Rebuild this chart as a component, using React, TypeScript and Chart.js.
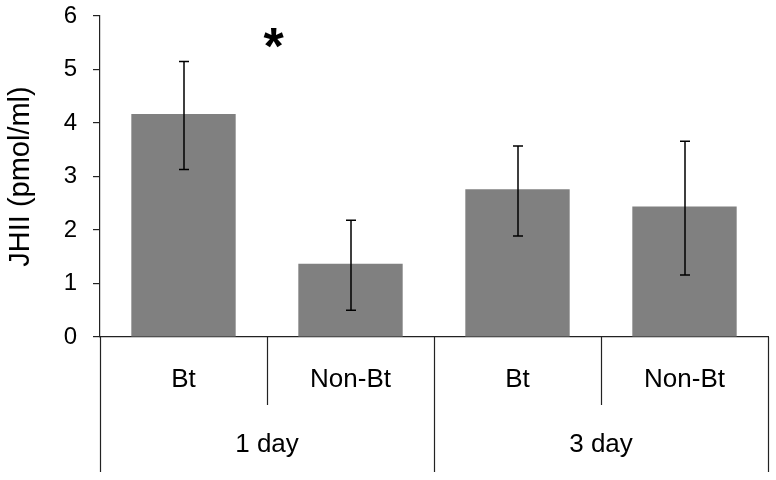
import React, { useEffect, useRef } from "react";
import { Chart, registerables } from "chart.js";

Chart.register(...registerables);

const groups = ["1 day", "3 day"];
const categories = ["Bt", "Non-Bt", "Bt", "Non-Bt"];
const categoryGroup = [0, 0, 1, 1];
const means = [4.17, 1.37, 2.76, 2.44];
const errLow = [3.13, 0.5, 1.89, 1.16];
const errHigh = [5.15, 2.18, 3.57, 3.66];
const yTicks = [0, 1, 2, 3, 4, 5, 6];
const yTitle = "JHII (pmol/ml)";
const significance = "*";

const FONT = "Arial, 'Liberation Sans', sans-serif";

const errorBarPlugin = {
  id: "errorBars",
  afterDatasetsDraw(chart: any) {
    const ctx = chart.ctx;
    const meta = chart.getDatasetMeta(0);
    const y = chart.scales.y;
    ctx.save();
    ctx.strokeStyle = "#000";
    ctx.lineWidth = 1.5;
    meta.data.forEach((bar: any, i: number) => {
      const x = Math.round(bar.x);
      const yh = y.getPixelForValue(errHigh[i]);
      const yl = y.getPixelForValue(errLow[i]);
      ctx.beginPath();
      ctx.moveTo(x, yh);
      ctx.lineTo(x, yl);
      ctx.moveTo(x - 5, yh);
      ctx.lineTo(x + 5, yh);
      ctx.moveTo(x - 5, yl);
      ctx.lineTo(x + 5, yl);
      ctx.stroke();
    });
    ctx.restore();
  },
};

const groupAxisPlugin = {
  id: "groupAxis",
  afterDraw(chart: any) {
    const ctx = chart.ctx;
    const xs = chart.scales.x;
    const area = chart.chartArea;
    const n = categories.length;
    const left = area.left;
    const right = area.right;
    const w = (right - left) / n;
    const base = area.bottom;
    ctx.save();
    ctx.strokeStyle = "#222";
    ctx.lineWidth = 1.2;
    for (let i = 0; i <= n; i++) {
      const bx = Math.round(left + i * w) + 0.5;
      const isGroupEdge =
        i === 0 || i === n || categoryGroup[i] !== categoryGroup[i - 1];
      ctx.beginPath();
      ctx.moveTo(bx, base);
      ctx.lineTo(bx, isGroupEdge ? base + 135 : base + 68);
      ctx.stroke();
    }
    ctx.fillStyle = "#000";
    ctx.font = `26px ${FONT}`;
    ctx.textAlign = "center";
    ctx.textBaseline = "middle";
    categories.forEach((c, i) => {
      ctx.fillText(c, xs.getPixelForValue(i), base + 43);
    });
    groups.forEach((g, gi) => {
      const idx = categoryGroup
        .map((v, i) => (v === gi ? i : -1))
        .filter((v) => v >= 0);
      const a = left + idx[0] * w;
      const b = left + (idx[idx.length - 1] + 1) * w;
      ctx.fillText(g, (a + b) / 2, base + 108);
    });
    ctx.font = `bold 52px ${FONT}`;
    const sx = left + w * 1.04;
    ctx.fillText(significance, sx, chart.scales.y.getPixelForValue(5.38));
    ctx.restore();
  },
};

export default function App() {
  const ref = useRef<HTMLCanvasElement>(null);
  useEffect(() => {
    document.body.style.margin = "0";
    const chart = new Chart(ref.current!, {
      type: "bar",
      data: {
        labels: categories,
        datasets: [
          {
            data: means,
            backgroundColor: "#808080",
            borderWidth: 0,
            barPercentage: 0.625,
            categoryPercentage: 1,
          },
        ],
      },
      options: {
        responsive: false,
        animation: false,
        devicePixelRatio: 1,
        layout: { padding: { top: 16, right: 8, left: 0, bottom: 0 } },
        plugins: { legend: { display: false }, tooltip: { enabled: false } },
        scales: {
          x: {
            ticks: { display: false },
            grid: { display: false, drawTicks: false },
            border: { display: true, color: "#222", width: 1.2 },
            afterFit(scale: any) {
              scale.height = 143;
              scale.paddingLeft = 0;
              scale.paddingRight = 0;
            },
          },
          y: {
            min: 0,
            max: 6,
            afterBuildTicks(scale: any) {
              scale.ticks = yTicks.map((v) => ({ value: v }));
            },
            ticks: {
              color: "#000",
              font: { size: 24, family: FONT },
              padding: 16,
            },
            grid: {
              drawOnChartArea: false,
              drawTicks: true,
              tickLength: 7,
              color: "#222",
              lineWidth: 1.2,
            },
            border: { display: true, color: "#222", width: 1.2 },
            title: {
              display: true,
              text: yTitle,
              color: "#000",
              font: { size: 29, family: FONT },
              padding: { top: 4, bottom: 0 },
            },
            afterFit(scale: any) {
              scale.width = 100;
              scale.paddingTop = 0;
              scale.paddingBottom = 0;
            },
          },
        },
      },
      plugins: [errorBarPlugin, groupAxisPlugin],
    });
    return () => chart.destroy();
  }, []);
  return (
    <div style={{ width: 776, height: 480 }}>
      <canvas ref={ref} width={776} height={480} />
    </div>
  );
}
